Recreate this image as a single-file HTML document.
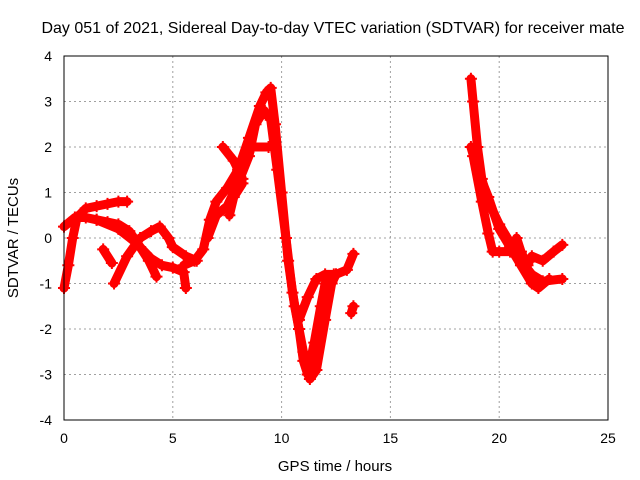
<!DOCTYPE html>
<html><head><meta charset="utf-8"><style>
body{margin:0;background:#fff}
svg{display:block;font-family:"Liberation Sans",sans-serif}
</style></head><body>
<svg id="chart" width="640" height="480" viewBox="0 0 640 480" xmlns="http://www.w3.org/2000/svg">
<rect width="640" height="480" fill="#fff"/>
<text x="333" y="33" font-size="16" text-anchor="middle" fill="#000">Day 051 of 2021, Sidereal Day-to-day VTEC variation (SDTVAR) for receiver mate</text>
<g id="grid"></g>
<g id="series"></g>
<rect x="64" y="56" width="544" height="364" fill="none" stroke="#000" stroke-width="1"/>
<g id="ticks"></g>
<text x="335" y="471" font-size="15" text-anchor="middle">GPS time / hours</text>
<text transform="translate(18,238) rotate(-90)" font-size="15" text-anchor="middle">SDTVAR / TECUs</text>
</svg>
<script>
const xTicks=[0,5,10,15,20,25];
const yTicks=[4,3,2,1,0,-1,-2,-3,-4];
const traceA=[[0,-1.1],[0.2,-0.6],[0.4,0],[0.6,0.45],[1,0.65],[1.5,0.7],[2,0.75],[2.5,0.8],[2.9,0.8]];
const traceB=[[0,0.25],[0.5,0.45],[1,0.45],[1.5,0.4],[2,0.35],[2.5,0.3],[3,0.15],[3.5,-0.2],[3.9,-0.5],[4.25,-0.85]];
const traceC=[[2.3,-1.0],[2.9,-0.4],[3.5,0],[4,0.15],[4.4,0.25],[4.8,0],[5.0,-0.2],[5.6,-0.4],[6.1,-0.5]];
const traceD=[[1.8,-0.25],[2.2,-0.55]];
const traceE=[[1.5,0.4],[2.5,0.2],[3.3,-0.1],[4,-0.45],[4.5,-0.6],[5,-0.65],[5.5,-0.75],[5.6,-1.1]];
const traceF=[[5.5,-0.6],[6,-0.5],[6.4,-0.25],[6.7,0.4],[7,0.8],[7.5,1.1],[8,1.5],[8.5,2.2],[9,2.9],[9.3,3.2],[9.5,3.3],[9.7,2.5],[10,1.0],[10.3,-0.5],[10.6,-1.5],[11,-2.5],[11.3,-3.1],[11.6,-2.9],[12,-1.8],[12.3,-1.0],[12.5,-0.8]];
const traceG=[[6.6,0],[7,0.5],[7.5,0.7],[8,1.2],[8.5,1.8],[8.8,2.5],[9.2,2.8],[9.5,2.6],[9.8,1.5],[10.2,0],[10.5,-1.2],[10.8,-2],[11,-2.7],[11.2,-3.0],[11.5,-2.3],[11.8,-1.5],[12,-1.0],[12.5,-0.8],[13,-0.7],[13.3,-0.35]];
const traceH=[[7.3,2.0],[7.8,1.7],[8.2,1.3]];
const traceI=[[7.6,0.5],[7.8,0.9],[8.2,1.2]];
const traceJ=[[8.7,2.0],[9.4,2.0]];
const traceK=[[10.8,-1.8],[11.2,-1.3],[11.6,-0.9],[12,-0.8],[12.4,-0.8]];
const traceL=[[13.2,-1.65],[13.3,-1.5]];
const traceM=[[18.7,3.5],[18.8,3.0],[19,2.0],[19.2,1.3],[19.5,0.8],[20,0.3],[20.5,-0.1],[21,-0.5],[21.5,-0.8],[22,-0.95],[22.9,-0.9]];
const traceN=[[18.7,2.0],[19,1.5],[19.5,0.9],[20,0.2],[20.5,-0.2],[21,-0.6],[21.5,-1.0],[21.8,-1.1],[22.3,-0.9]];
const traceO=[[18.8,1.8],[19.2,0.8],[19.5,0.1],[19.7,-0.3],[20,-0.3],[20.5,-0.3],[20.8,0],[21,-0.3],[21.3,-0.6],[21.5,-0.4],[22,-0.5],[22.5,-0.3],[22.9,-0.15]];
const traces=[traceA,traceB,traceC,traceD,traceE,traceF,traceG,traceH,traceI,traceJ,traceK,traceL,traceM,traceN,traceO];
const NS="http://www.w3.org/2000/svg";
const X0=64,X1=608,Y0=420,Y1=56;
function sx(h){return X0+(h-0)/(25-0)*(X1-X0);}
function sy(v){return Y0-(v+4)/8*(Y0-Y1);}
const grid=document.getElementById('grid'),ticks=document.getElementById('ticks'),ser=document.getElementById('series');
xTicks.forEach(t=>{const x=sx(t);
 if(t>0&&t<25){const l=document.createElementNS(NS,'line');
 
 
 l.setAttribute('x1',x);l.setAttribute('x2',x);l.setAttribute('y1',Y1);l.setAttribute('y2',Y0);l.setAttribute('stroke','#a0a0a0');l.setAttribute('stroke-dasharray','2,3');grid.appendChild(l);}
 const tx=document.createElementNS(NS,'text');
 
 
 tx.setAttribute('x',x);tx.setAttribute('y',443);tx.setAttribute('font-size','14');tx.setAttribute('text-anchor','middle');tx.textContent=t;ticks.appendChild(tx);});
yTicks.forEach(t=>{const y=sy(t);
 if(t>-4&&t<4){const l=document.createElementNS(NS,'line');
 
 
 l.setAttribute('x1',X0);l.setAttribute('x2',X1);l.setAttribute('y1',y);l.setAttribute('y2',y);l.setAttribute('stroke','#a0a0a0');l.setAttribute('stroke-dasharray','2,3');grid.appendChild(l);}
 const tx=document.createElementNS(NS,'text');
 
 
 tx.setAttribute('x',52);tx.setAttribute('y',y+5);tx.setAttribute('font-size','14');tx.setAttribute('text-anchor','end');tx.textContent=t;ticks.appendChild(tx);});
traces.forEach(tr=>{
 const p=document.createElementNS(NS,'polyline');
 
 
 p.setAttribute('points',tr.map(d=>sx(d[0])+','+sy(d[1])).join(' '));
 p.setAttribute('fill','none');p.setAttribute('stroke','#ff0000');p.setAttribute('stroke-width','9');p.setAttribute('stroke-linejoin','round');p.setAttribute('stroke-linecap','round');
 ser.appendChild(p);
 tr.forEach(d=>{const m=document.createElementNS(NS,'path');
 
 
 const x=sx(d[0]),y=sy(d[1]);
 m.setAttribute('d',`M${x-6},${y}H${x+6}M${x},${y-6}V${y+6}`);m.setAttribute('stroke','#ff0000');m.setAttribute('stroke-width','2');ser.appendChild(m);});
});
</script>
</body></html>
